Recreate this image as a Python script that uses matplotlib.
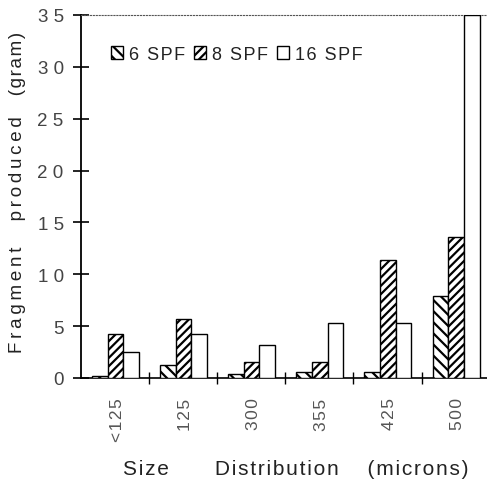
import numpy as np
import matplotlib
matplotlib.use('Agg')
import matplotlib.pyplot as plt

# === Data ===
categories = ['<125', '125', '300', '355', '425', '500']
series_names = ['6 SPF', '8 SPF', '16 SPF']
spf6 = [0.2, 1.3, 0.4, 0.6, 0.6, 7.9]
spf8 = [4.2, 5.7, 1.5, 1.5, 11.4, 13.6]
spf16 = [2.5, 4.2, 3.2, 5.3, 5.3, 35.0]
y_ticks = [0, 5, 10, 15, 20, 25, 30, 35]

GREY_TXT = '#444444'
DARK_TXT = '#222222'
HAIR, THIN = '\u200a', '\u2009'
plt.rcParams.update({
    'font.family': ['Liberation Sans', 'DejaVu Sans'],
    'hatch.linewidth': 1.6,
})


def spaced(s, sep=HAIR):
    # old typewriter-ish letter spacing
    return sep.join(s)


fig = plt.figure(figsize=(4.87, 4.81), dpi=100, facecolor='white')
ax = fig.add_axes([81 / 487, 1 - 379 / 481, 406 / 487, 363 / 481])

x = np.arange(len(categories))
offset, width = 0.16, 0.23
hatches = ['\\\\\\', '////', '']
for j, (vals, name) in enumerate(zip([spf6, spf8, spf16], series_names)):
    ax.bar(x + offset + width * j, vals, width, align='edge', color='white',
           edgecolor='black', linewidth=1.0, hatch=hatches[j],
           label=spaced(name), zorder=3)

ax.set_xlim(0, 5.96)
ax.set_ylim(0, 35)

# y axis
ax.set_yticks(y_ticks)
ax.set_yticklabels([spaced(str(v), ' ') for v in y_ticks], fontsize=13.5,
                   color=GREY_TXT)
ax.tick_params(axis='y', direction='inout', length=11, width=1.2, pad=7)

# x axis: boundaries as minor ticks, labels at group centres
ax.set_xticks(x + 0.53)
ax.set_xticklabels([spaced(c) for c in categories], rotation=90,
                   fontsize=12.5, color='#555555')
ax.set_xticks(np.arange(1, 6), minor=True)
ax.tick_params(axis='x', which='major', length=0, pad=14)
ax.tick_params(axis='x', which='minor', direction='inout', length=9, width=1.0)

ax.spines['left'].set_linewidth(1.3)
ax.spines['bottom'].set_linewidth(1.2)
ax.spines['top'].set_linestyle(':')
ax.spines['top'].set_color('#555555')
ax.spines['right'].set_visible(False)

ax.set_ylabel(spaced('Fragment', THIN) + '     ' + spaced('produced', THIN)
              + '    ' + spaced('(gram)', HAIR), fontsize=13.5, color=DARK_TXT)
ax.yaxis.set_label_coords(-0.135, 0.515)
fig.text(296 / 487, 1 - 470 / 481,
         spaced('Size') + '        ' + spaced('Distribution') + '     '
         + spaced('(microns)'),
         ha='center', va='center', fontsize=15, color=DARK_TXT)

leg = ax.legend(loc='upper left', bbox_to_anchor=(0.055, 0.935), ncol=3,
                frameon=False, fontsize=13, handlelength=0.7, handleheight=0.7,
                handletextpad=0.3, columnspacing=0.5, borderaxespad=0)
for t in leg.get_texts():
    t.set_color(DARK_TXT)

fig.savefig('out.png', dpi=100, facecolor='white')
